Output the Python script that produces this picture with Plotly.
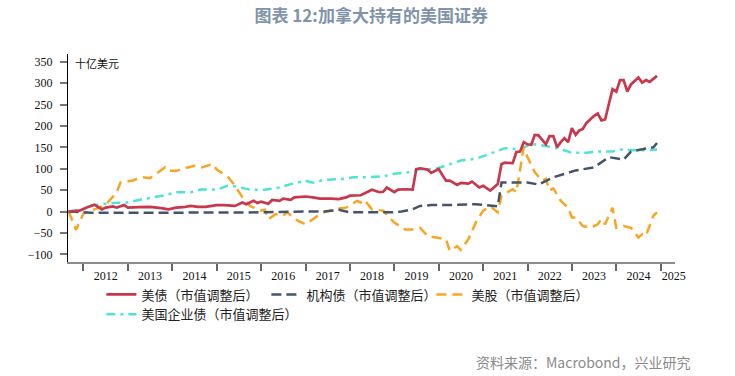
import plotly.graph_objects as go

# ---------------- data (十亿美元) ----------------
ust_dates = ["2011-09", "2011-12", "2012-02", "2012-04", "2012-06", "2012-07", "2012-09", "2012-10",
             "2012-12", "2013-01", "2013-04", "2013-07", "2013-10", "2013-12", "2014-02", "2014-04",
             "2014-06", "2014-08", "2014-10", "2015-01", "2015-03", "2015-06", "2015-08", "2015-09",
             "2015-11", "2015-12", "2016-01", "2016-03", "2016-04", "2016-06", "2016-07", "2016-09",
             "2016-10", "2017-01", "2017-03", "2017-05", "2017-08", "2017-10", "2017-12", "2018-01",
             "2018-04", "2018-07", "2018-09", "2018-10", "2018-11", "2019-01", "2019-02", "2019-04",
             "2019-06", "2019-07", "2019-08", "2019-10", "2019-11", "2020-01", "2020-03", "2020-04",
             "2020-06", "2020-07", "2020-09", "2020-10", "2020-12", "2021-01", "2021-03", "2021-05",
             "2021-06", "2021-07", "2021-09", "2021-10", "2021-11", "2021-12", "2022-01", "2022-02",
             "2022-03", "2022-04", "2022-06", "2022-07", "2022-08", "2022-09", "2022-10", "2022-11",
             "2022-12", "2023-01", "2023-02", "2023-03", "2023-04", "2023-05", "2023-07", "2023-08",
             "2023-09", "2023-10", "2023-12", "2024-01", "2024-02", "2024-03", "2024-04", "2024-05",
             "2024-07", "2024-08", "2024-09", "2024-10", "2024-12"]
ust_values = [0, 2, 10, 16, 5, 9, 12, 9,
              15, 9, 10, 11, 8, 5, 9, 10,
              13, 11, 11, 15, 15, 13, 21, 17,
              25, 20, 23, 18, 27, 25, 30, 27,
              33, 35, 33, 30, 30, 29, 33, 37,
              38, 51, 45, 46, 56, 45, 51, 52,
              51, 99, 101, 98, 90, 99, 72, 72,
              62, 67, 65, 70, 56, 60, 49, 64,
              111, 114, 113, 139, 140, 162, 157, 156,
              179, 178, 157, 176, 176, 150, 162, 171,
              162, 195, 179, 189, 193, 207, 223, 229,
              213, 215, 286, 280, 307, 307, 280, 297,
              313, 301, 307, 303, 317]

agency_dates = ["2011-09", "2011-12", "2012-03", "2013-06", "2014-06", "2015-06", "2016-01", "2017-01",
                "2017-06", "2017-10", "2018-01", "2018-12", "2019-03", "2019-06", "2019-08", "2019-11",
                "2020-04", "2020-11", "2021-05", "2021-06", "2021-12", "2022-01", "2022-04", "2022-08",
                "2022-11", "2023-02", "2023-07", "2023-11", "2024-03", "2024-05", "2024-09", "2024-11",
                "2024-12"]
agency_values = [0, -1, -3, -3, -3, -2, -2, 0,
                 0, 4, -2, -2, 0, 5, 13, 15,
                 15, 17, 12, 68, 68, 68, 63, 80,
                 88, 96, 103, 127, 121, 140, 147, 150,
                 160]

equity_dates = ["2011-09", "2011-11", "2012-01", "2012-04", "2012-07", "2012-10", "2012-11", "2013-02",
                "2013-05", "2013-07", "2013-11", "2013-12", "2014-02", "2014-04", "2014-07", "2014-09",
                "2014-12", "2015-01", "2015-03", "2015-04", "2015-06", "2015-08", "2015-10", "2016-01",
                "2016-02", "2016-03", "2016-05", "2016-07", "2016-08", "2016-11", "2017-01", "2017-04",
                "2017-06", "2017-10", "2017-12", "2018-03", "2018-04", "2018-05", "2018-07", "2018-10",
                "2019-01", "2019-04", "2019-06", "2019-08", "2019-10", "2020-01", "2020-03", "2020-04",
                "2020-06", "2020-07", "2020-09", "2020-11", "2021-01", "2021-03", "2021-05", "2021-06",
                "2021-09", "2021-10", "2021-12", "2022-01", "2022-03", "2022-05", "2022-06", "2022-07",
                "2022-08", "2022-10", "2022-12", "2023-01", "2023-02", "2023-04", "2023-06", "2023-08",
                "2023-09", "2023-10", "2023-12", "2024-01", "2024-03", "2024-05", "2024-07", "2024-08",
                "2024-09", "2024-11", "2024-12"]
equity_values = [0, -43, -5, 5, 15, 45, 68, 72,
                 80, 78, 103, 95, 95, 100, 107, 103,
                 111, 98, 88, 82, 60, 33, 13, 2,
                 4, -18, -6, -10, -2, -22, -30, -12,
                 -2, 7, 9, 25, 21, 27, 5, 2,
                 -26, -42, -42, -38, -57, -61, -65, -92,
                 -81, -90, -65, -26, 2, 12, -2, 37,
                 52, 45, 150, 127, 92, 72, 76, 49,
                 54, 25, 9, -14, -14, -34, -38, -30,
                 -18, -30, 9, -38, -34, -38, -61, -53,
                 -57, -10, -2]

corp_dates = ["2011-09", "2012-01", "2012-02", "2012-04", "2012-09", "2013-01", "2013-04", "2013-08",
              "2013-11", "2014-02", "2014-06", "2014-09", "2015-01", "2015-04", "2015-06", "2015-10",
              "2016-02", "2016-06", "2016-09", "2017-01", "2017-03", "2017-06", "2017-11", "2018-02",
              "2018-06", "2018-10", "2019-01", "2019-05", "2019-08", "2019-12", "2020-04", "2020-07",
              "2020-11", "2021-03", "2021-07", "2021-11", "2022-02", "2022-06", "2022-10", "2023-01",
              "2023-05", "2023-08", "2023-12", "2024-02", "2024-05", "2024-09", "2024-12"]
corp_values = [0, 5, 11, 15, 20, 21, 27, 33,
               38, 45, 45, 52, 51, 60, 59, 51,
               51, 56, 64, 72, 67, 74, 76, 80,
               80, 82, 88, 92, 99, 99, 111, 119,
               123, 135, 148, 145, 158, 153, 146, 137,
               137, 140, 140, 145, 143, 143, 145]

series_names = ["美债（市值调整后）", "机构债（市值调整后）", "美股（市值调整后）", "美国企业债（市值调整后）"]
year_labels = ["2012", "2013", "2014", "2015", "2016", "2017", "2018", "2019",
               "2020", "2021", "2022", "2023", "2024", "2025"]
year_label_pos = ["2012-07-02", "2013-07-02", "2014-07-02", "2015-07-02", "2016-07-02", "2017-07-02",
                  "2018-07-02", "2019-07-02", "2020-07-02", "2021-07-02", "2022-07-02", "2023-07-02",
                  "2024-07-02", "2025-04-18"]
y_ticks = [350, 300, 250, 200, 150, 100, 50, 0, -50, -100]

title_text = "图表 12:加拿大持有的美国证券"
unit_text = "十亿美元"
source_text = "资料来源：Macrobond，兴业研究"

# ---------------- figure ----------------
fig = go.Figure()
fig.add_trace(go.Scatter(x=corp_dates, y=corp_values, name=series_names[3], mode="lines",
                         line=dict(color="#4FE3D8", width=2.5, dash="9px,5px,3px,5px"), legendrank=4))
fig.add_trace(go.Scatter(x=equity_dates, y=equity_values, name=series_names[2], mode="lines",
                         line=dict(color="#F8A523", width=2.5, dash="10px,6px"), legendrank=3))
fig.add_trace(go.Scatter(x=agency_dates, y=agency_values, name=series_names[1], mode="lines",
                         line=dict(color="#44546A", width=2.5, dash="10px,5px"), legendrank=2))
fig.add_trace(go.Scatter(x=ust_dates, y=ust_values, name=series_names[0], mode="lines",
                         line=dict(color="#C8374B", width=2.7), legendrank=1))

fig.update_layout(
    width=735, height=376,
    margin=dict(l=68, r=60, t=54, b=114),
    paper_bgcolor="white", plot_bgcolor="white",
    showlegend=True,
    title=dict(text="<b>" + title_text + "</b>", x=0.505, xanchor="center", xref="container",
               y=1 - 16 / 376, yanchor="middle", yref="container",
               font=dict(family="Noto Sans CJK SC", size=17, color="#8093AB")),
    legend=dict(orientation="h", x=0.055, xanchor="left", y=-0.084, yanchor="top",
                font=dict(family="Noto Sans CJK SC", size=13, color="#222"),
                bgcolor="rgba(0,0,0,0)", traceorder="normal", itemwidth=30,
                entrywidth=120, entrywidthmode="pixels", tracegroupgap=0),
    xaxis=dict(type="date", range=["2011-08-27", "2025-04-28"],
               tickmode="array", tickvals=year_label_pos, ticktext=year_labels,
               ticks="", showgrid=False, zeroline=False,
               showline=True, linecolor="#8c8c8c", linewidth=2,
               tickfont=dict(family="Liberation Serif", size=12, color="#111"),
               ticklabelstandoff=2,
               minor=dict(ticks="outside", ticklen=7, tickwidth=1.5, tickcolor="#666",
                          dtick="M12", tick0="2012-01-01", showgrid=False)),
    yaxis=dict(range=[-118, 368], tickmode="array", tickvals=y_ticks,
               ticks="outside", ticklen=7, tickwidth=1.5, tickcolor="#777",
               showgrid=False, zeroline=False,
               showline=True, linecolor="black", linewidth=1,
               tickfont=dict(family="Liberation Serif", size=12, color="#111"),
               ticklabelstandoff=5),
    annotations=[
        dict(text=unit_text, xref="paper", yref="paper", x=0.008, y=0.958,
             xanchor="left", yanchor="middle", showarrow=False,
             font=dict(family="Noto Sans CJK SC", size=11, color="#111")),
        dict(text=source_text, xref="paper", yref="paper", x=(693 - 68) / 607, y=(262 - 362) / 208,
             xanchor="right", yanchor="middle", showarrow=False,
             font=dict(family="Noto Sans CJK SC", size=14, color="#8a8a8a")),
    ],
)

fig.write_html("out.html", config={"displayModeBar": False},
               post_script="document.body.style.margin='0px';")
